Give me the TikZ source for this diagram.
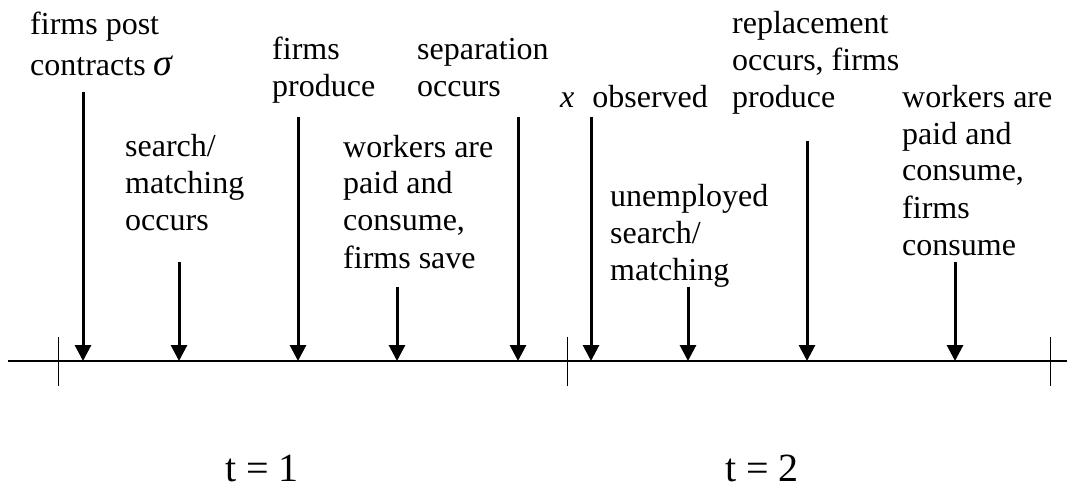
\documentclass[tikz,border=0pt]{standalone}
\usepackage{fontspec}
\setmainfont{Liberation Serif}
\usetikzlibrary{arrows.meta}

\begin{document}
\begin{tikzpicture}[
  x=1pt, y=-1pt,
  lbl/.style={font=\fontsize{32}{37}\selectfont, align=left, anchor=base west, inner sep=0pt},
  period/.style={font=\fontsize{40}{46}\selectfont, anchor=base, inner sep=0pt},
  event/.style={-{Triangle[length=16pt, width=16pt]}, line width=3pt},
  axis/.style={line width=1.4pt},
  tick/.style={line width=1pt}
]
\useasboundingbox (0,0) rectangle (1067,486);
% time line and period ticks
\coordinate (start) at (8,361);
\coordinate (stop) at (1067,361);
\draw[axis] (start) -- (stop);
\foreach \x [count=\i] in {58,567,1050} {
  \coordinate (tt\i) at (\x,337);
  \coordinate (tb\i) at (\x,386);
  \draw[tick] (tt\i) -- (tb\i);
}
% labels (placed at the baseline of their last line)
\node[lbl] (post) at (30,76) {firms post\\[4pt]contracts {\fontsize{38}{37}\selectfont\textit{σ}}};
\node[lbl] (match) at (125,231) {search/\\matching\\occurs};
\node[lbl] (prod) at (272,97) {firms\\produce};
\node[lbl] (paid) at (343,268) {workers are\\paid and\\consume,\\firms save};
\node[lbl] (sep) at (417,97) {separation\\occurs};
\node[lbl] (obs) at (560,108) {\textit{x}\hspace{18pt}observed};
\node[lbl] (unemp) at (610,280) {unemployed\\search/\\matching};
\node[lbl] (repl) at (732,108) {replacement\\occurs, firms\\produce};
\node[lbl] (cons) at (902,255) {workers are\\paid and\\consume,\\firms\\consume};
% event arrows
\foreach \x/\y [count=\i] in {83/92,179/262,298/117,397/287,518/117,591/117,688/287,807/141,955/262} {
  \coordinate (top\i) at (\x,\y);
  \coordinate (hit\i) at (\x,361);
  \draw[event] (top\i) -- (hit\i);
}
% periods
\node[period] (t1) at (262,481) {t = 1};
\node[period] (t2) at (762,481) {t = 2};
\end{tikzpicture}
\end{document}
